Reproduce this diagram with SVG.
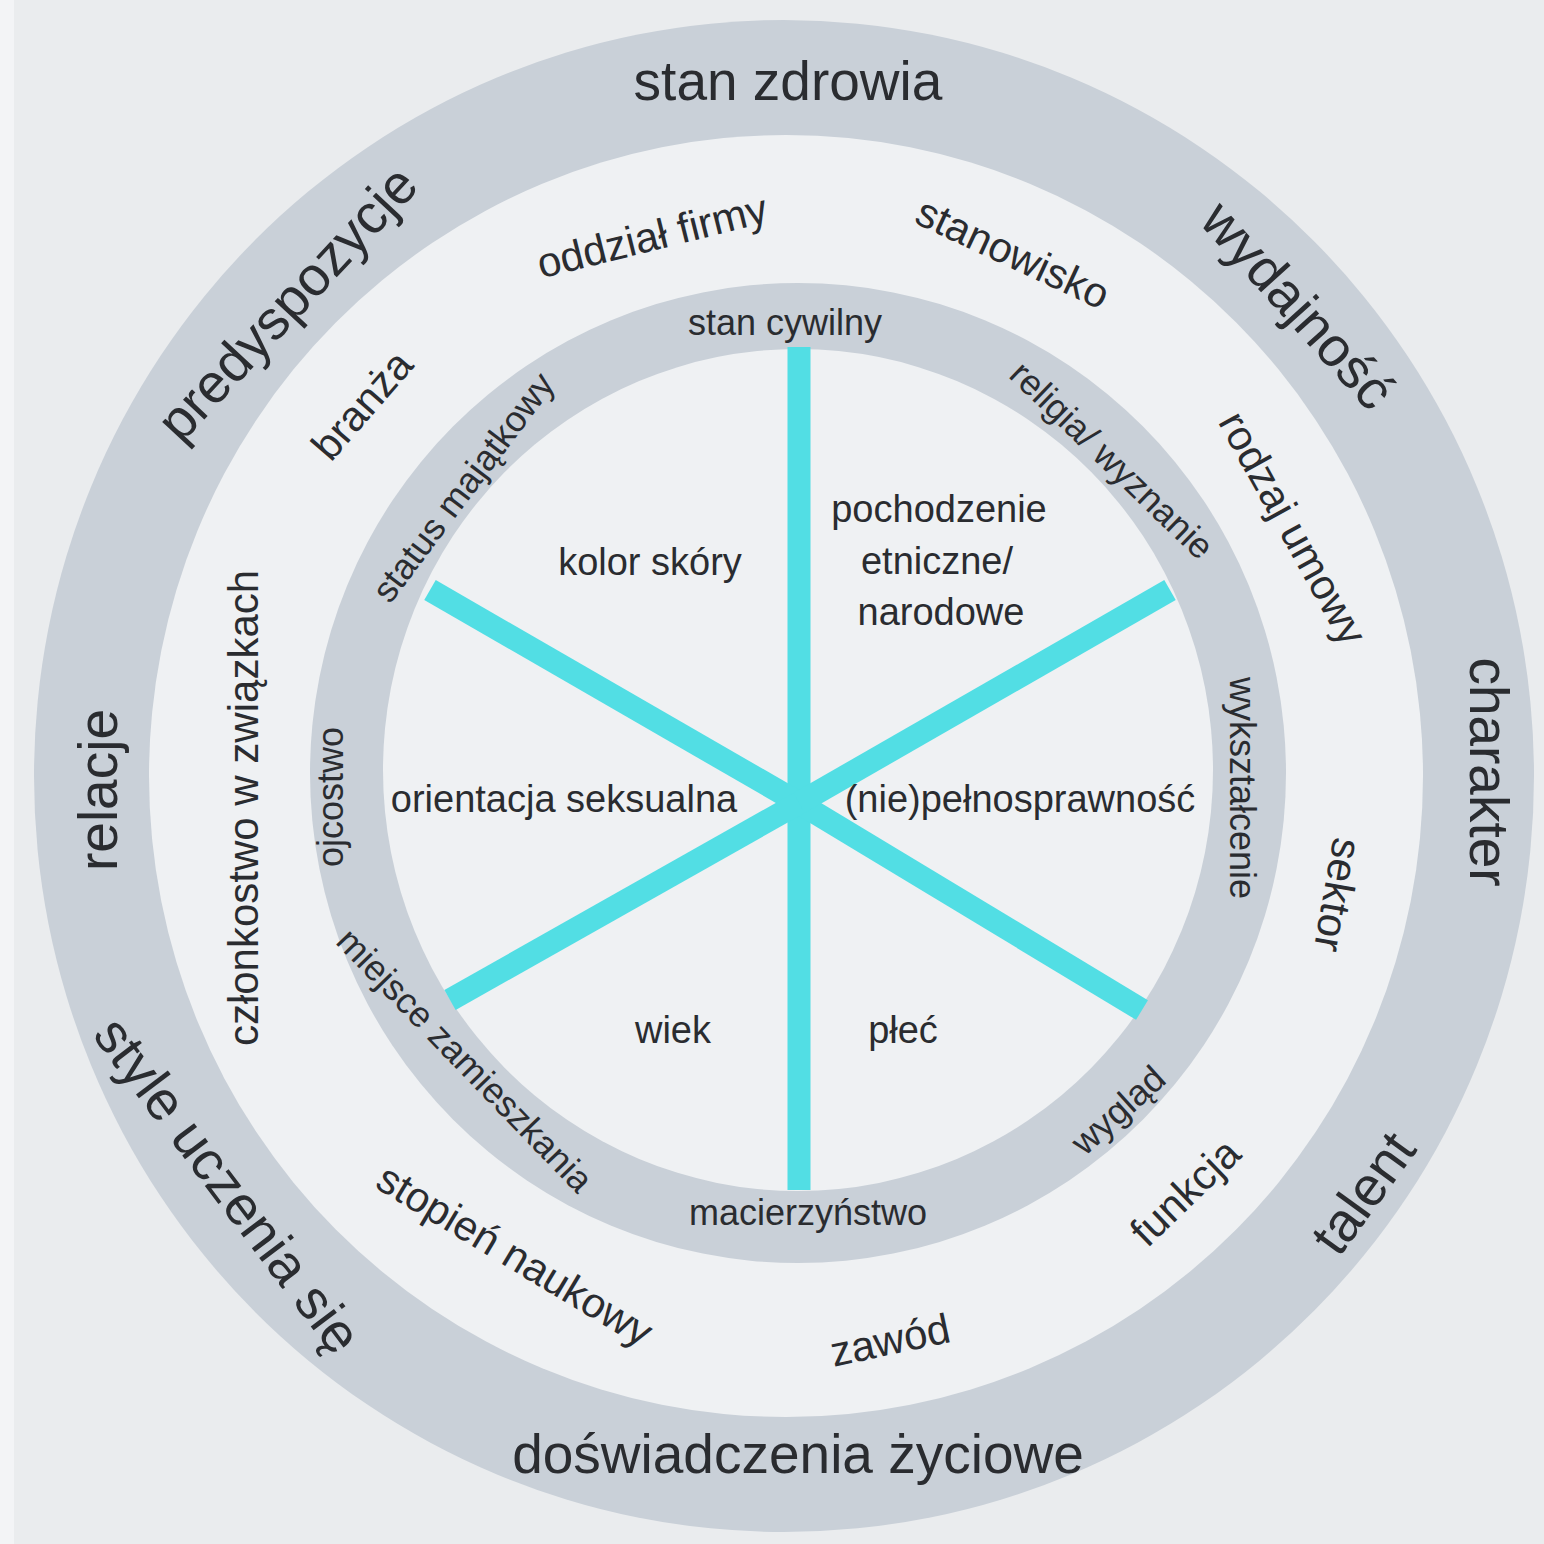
<svg xmlns="http://www.w3.org/2000/svg" width="1544" height="1544" viewBox="0 0 1544 1544">
<style>
.lbl{font-family:"Liberation Sans",Arial,sans-serif;fill:#2a2c30;text-anchor:middle;dominant-baseline:central}
.xl{font-size:55px}
.md{font-size:42px}
.sm{font-size:36px}
.ct{font-size:38px}
.ring{fill:#c9d0d8}
.light{fill:#eff1f3}
.spoke{stroke:#52dee4;stroke-width:23;stroke-linecap:butt;fill:none}
</style>
<rect x="0" y="0" width="1544" height="1544" fill="#eaecee"/>
<rect x="0" y="0" width="14" height="1544" fill="#f3f4f6"/>
<g id="rings">
<ellipse class="ring" cx="784" cy="776" rx="750" ry="756"/>
<ellipse class="light" cx="786" cy="776" rx="637" ry="641"/>
<ellipse class="ring" cx="798" cy="773" rx="488" ry="490"/>
<ellipse class="light" cx="798" cy="770" rx="415" ry="421"/>
</g>
<g id="connectors">
<line class="spoke" x1="799" y1="347" x2="799" y2="1190"/>
<line class="spoke" x1="799" y1="803" x2="430" y2="590"/>
<line class="spoke" x1="799" y1="803" x2="1142" y2="1010"/>
<line class="spoke" x1="799" y1="803" x2="1170" y2="590"/>
<line class="spoke" x1="799" y1="803" x2="450" y2="1000"/>
</g>
<g id="outer-ring-labels">
<g id="n-stan-zdrowia"><text class="lbl xl" x="788" y="81">stan zdrowia</text></g>
<g id="n-predyspozycje"><text class="lbl xl" transform="translate(287,303) rotate(-47)">predyspozycje</text></g>
<g id="n-wydajnosc"><text class="lbl xl" transform="translate(1298,305) rotate(48)">wydajność</text></g>
<g id="n-charakter"><text class="lbl xl" transform="translate(1489,772) rotate(90)">charakter</text></g>
<g id="n-talent"><text class="lbl xl" transform="translate(1363,1193) rotate(-54)">talent</text></g>
<g id="n-doswiadczenia"><text class="lbl xl" x="798" y="1454">doświadczenia życiowe</text></g>
<g id="n-style"><text class="lbl xl" transform="translate(228,1185) rotate(53)">style uczenia się</text></g>
<g id="n-relacje"><text class="lbl xl" transform="translate(98,790) rotate(-90)">relacje</text></g>
</g>
<g id="middle-ring-labels">
<g id="n-oddzial"><text class="lbl md" transform="translate(652,236) rotate(-14)">oddział firmy</text></g>
<g id="n-stanowisko"><text class="lbl md" transform="translate(1013,253) rotate(25)">stanowisko</text></g>
<g id="n-branza"><text class="lbl md" transform="translate(362,405) rotate(-49)">branża</text></g>
<g id="n-czlonkostwo"><text class="lbl md" transform="translate(243,808) rotate(-90)">członkostwo w związkach</text></g>
<g id="n-rodzaj"><text class="lbl md" transform="translate(1293,528) rotate(61)">rodzaj umowy</text></g>
<g id="n-sektor"><text class="lbl md" transform="translate(1338,895) rotate(100)">sektor</text></g>
<g id="n-funkcja"><text class="lbl md" transform="translate(1185,1192) rotate(-44)">funkcja</text></g>
<g id="n-zawod"><text class="lbl md" transform="translate(890,1340) rotate(-12)">zawód</text></g>
<g id="n-stopien"><text class="lbl md" transform="translate(515,1255) rotate(31)">stopień naukowy</text></g>
</g>
<g id="inner-ring-labels">
<g id="n-stan-cywilny"><text class="lbl sm" x="785" y="322">stan cywilny</text></g>
<g id="n-status"><text class="lbl sm" transform="translate(463,487) rotate(-53)">status majątkowy</text></g>
<g id="n-religia"><text class="lbl sm" transform="translate(1112,460) rotate(44)">religia/ wyznanie</text></g>
<g id="n-wyksztalcenie"><text class="lbl sm" transform="translate(1242,788) rotate(90)">wykształcenie</text></g>
<g id="n-ojcostwo"><text class="lbl sm" transform="translate(330,797) rotate(-90)">ojcostwo</text></g>
<g id="n-miejsce"><text class="lbl sm" transform="translate(465,1060) rotate(46)">miejsce zamieszkania</text></g>
<g id="n-macierzynstwo"><text class="lbl sm" x="808" y="1212">macierzyństwo</text></g>
<g id="n-wyglad"><text class="lbl sm" transform="translate(1118,1110) rotate(-42)">wygląd</text></g>
</g>
<g id="center-labels">
<g id="n-kolor"><text class="lbl ct" x="650" y="562">kolor skóry</text></g>
<g id="n-pochodzenie"><text class="lbl ct" x="939" y="509">pochodzenie</text><text class="lbl ct" x="937" y="561">etniczne/</text><text class="lbl ct" x="941" y="612">narodowe</text></g>
<g id="n-orientacja"><text class="lbl ct" x="564" y="799">orientacja seksualna</text></g>
<g id="n-pelnosprawnosc"><text class="lbl ct" x="1020" y="799">(nie)pełnosprawność</text></g>
<g id="n-wiek"><text class="lbl ct" x="673" y="1030">wiek</text></g>
<g id="n-plec"><text class="lbl ct" x="903" y="1030">płeć</text></g>
</g>
</svg>
